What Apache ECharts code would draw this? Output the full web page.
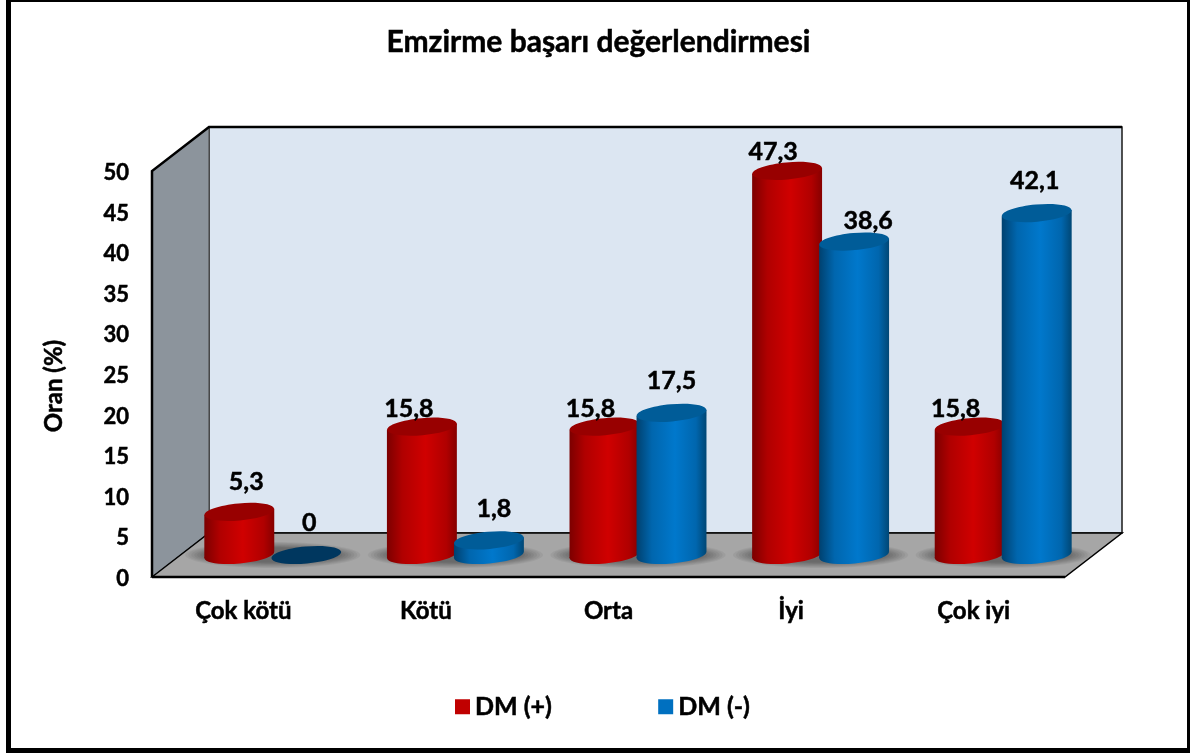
<!DOCTYPE html>
<html>
<head>
<meta charset="utf-8">
<title>Emzirme başarı değerlendirmesi</title>
<script src="https://cdn.jsdelivr.net/npm/echarts@6/dist/echarts.min.js"></script>
<style>
  html, body { margin: 0; padding: 0; background: #fff; }
  #chart { width: 1197px; height: 756px; }
</style>
</head>
<body>
<div id="chart"></div>
<script>
var categories = ['Çok kötü', 'Kötü', 'Orta', 'İyi', 'Çok iyi'];
var yTicks = [0, 5, 10, 15, 20, 25, 30, 35, 40, 45, 50];
var dmPlus = [5.3, 15.8, 15.8, 47.3, 15.8];
var dmMinus = [0, 1.8, 17.5, 38.6, 42.1];

var FONT = 'Lato, "Noto Sans", sans-serif';

// depth of the fake 3d box, the floor runs this far back from the axis plane
var DEPTH_X = 57;
var DEPTH_Y = 44;

// hand placed data labels, same as the original slide
var plusNudge = [[7, -30], [-13, -18], [-14, -18], [-14, -19], [-14, -18]];
var minusNudge = [[3, -32], [5, -31], [0, -32], [14, -21], [-2, -32]];

// lato bold is a bit lighter than the original, thicken it a little
function boldText(size) {
  return {
    color: '#000', fontFamily: FONT, fontWeight: 'bold', fontSize: size,
    textBorderColor: '#000', textBorderWidth: 0.5
  };
}

function sideGradient(edgeL, mid, bright, edgeR) {
  return new echarts.graphic.LinearGradient(0, 0, 1, 0, [
    { offset: 0, color: edgeL },
    { offset: 0.22, color: mid },
    { offset: 0.55, color: bright },
    { offset: 0.85, color: mid },
    { offset: 1, color: edgeR }
  ]);
}

// one cylinder, side is -1 for left bar of the group and 1 for the right one
function cylinder(side, nudge, sideFill, topFill, zeroFill) {
  return function (params, api) {
    var idx = api.value(0);
    var val = api.value(1);
    var band = api.size([1, 0])[0];
    var top = api.coord([idx, val]);
    var base = api.coord([idx, 0]);
    var rx = band * 0.1915;
    var ry = rx * 0.245;
    var cx = base[0] + DEPTH_X / 2 + 1 + side * band * 0.1835;
    var topY = top[1] - DEPTH_Y / 2;
    var baseY = base[1] - DEPTH_Y / 2;
    var tilt = 0.09;
    var lift = rx * Math.sin(tilt);
    var kids = [];
    if (val > 0) {
      kids.push({
        type: 'ellipse', x: cx, y: baseY, rotation: tilt,
        shape: { cx: 0, cy: 0, rx: rx, ry: ry },
        style: { fill: sideFill }
      });
      kids.push({
        type: 'polygon',
        shape: { points: [
          [cx - rx, topY + lift], [cx + rx, topY - lift],
          [cx + rx, baseY - lift], [cx - rx, baseY + lift]
        ] },
        style: { fill: sideFill }
      });
    }
    kids.push({
      type: 'ellipse', x: cx, y: topY, rotation: tilt,
      shape: { cx: 0, cy: 0, rx: rx, ry: ry },
      style: { fill: val > 0 ? topFill : zeroFill }
    });
    kids.push({
      type: 'text', z2: 50,
      x: cx + nudge[idx][0], y: topY + nudge[idx][1],
      style: {
        text: String(val).replace('.', ','),
        font: 'bold 25px ' + FONT,
        fill: '#000', stroke: '#000', lineWidth: 0.5,
        align: 'center', verticalAlign: 'middle'
      }
    });
    return { type: 'group', children: kids };
  };
}

function renderBox(params, api) {
  var g = params.coordSys;
  var l = g.x, r = g.x + g.width, t = g.y, b = g.y + g.height;
  var dx = DEPTH_X, dy = DEPTH_Y;
  return {
    type: 'group',
    children: [
      { type: 'rect', shape: { x: l + dx, y: t - dy, width: r - l, height: b - t },
        style: { fill: '#dce6f2', stroke: '#1a1a1a', lineWidth: 1.5 } },
      { type: 'polygon', shape: { points: [[l, t], [l + dx, t - dy], [l + dx, b - dy], [l, b]] },
        style: { fill: '#8c949c', stroke: '#444', lineWidth: 1 } },
      { type: 'polygon', shape: { points: [[l, b], [l + dx, b - dy], [r + dx, b - dy], [r, b]] },
        style: { fill: '#a6a6a6', stroke: '#000', lineWidth: 1.5 } },
      { type: 'polyline', shape: { points: [[l, b], [l, t], [l + dx, t - dy], [r + dx, t - dy]] },
        style: { fill: 'none', stroke: '#000', lineWidth: 2.5 } },
      { type: 'line', shape: { x1: l, y1: b, x2: r, y2: b },
        style: { stroke: '#000', lineWidth: 2.5 } }
    ]
  };
}

// soft shadow on the floor, stacked see-through ellipses fading outwards
function renderFloorShadow(params, api) {
  var base = api.coord([api.value(0), 0]);
  var band = api.size([1, 0])[0];
  var kids = [];
  for (var i = 0; i < 8; i++) {
    kids.push({
      type: 'ellipse',
      shape: {
        cx: base[0] + DEPTH_X / 2 + 1,
        cy: base[1] - DEPTH_Y / 2,
        rx: band * 0.48 - i * 3,
        ry: 13 - i * 0.8
      },
      style: { fill: 'rgba(0,0,0,0.05)' }
    });
  }
  return { type: 'group', children: kids };
}

function frameBar(x, y, w, h) {
  return { type: 'rect', silent: true, shape: { x: x, y: y, width: w, height: h }, style: { fill: '#000' } };
}

var chart = echarts.init(document.getElementById('chart'));
chart.setOption({
  animation: false,
  backgroundColor: '#fff',
  title: {
    text: 'Emzirme başarı değerlendirmesi',
    left: 'center',
    top: 22,
    textStyle: boldText(30)
  },
  // outer frame, the sides are not equally thick in the original
  graphic: [
    frameBar(6, 0, 5, 753),
    frameBar(6, 0, 1184, 2),
    frameBar(1187, 0, 3, 753),
    frameBar(6, 748, 1184, 5)
  ],
  legend: {
    data: [{ name: 'DM (+)', icon: 'rect' }, { name: 'DM (-)', icon: 'rect' }],
    left: 450,
    top: 689,
    itemWidth: 15,
    itemHeight: 15,
    itemGap: 106,
    textStyle: boldText(25)
  },
  grid: { left: 152, right: 132, top: 171, bottom: 179 },
  xAxis: {
    type: 'category',
    data: categories,
    axisLine: { show: false },
    axisTick: { show: false },
    splitLine: { show: false },
    axisLabel: Object.assign({ margin: 22 }, boldText(24))
  },
  yAxis: {
    type: 'value',
    min: yTicks[0],
    max: yTicks[yTicks.length - 1],
    interval: yTicks[1] - yTicks[0],
    name: 'Oran (%)',
    nameLocation: 'middle',
    nameRotate: 90,
    nameGap: 86,
    nameTextStyle: Object.assign({ padding: [0, 24, 0, 0] }, boldText(24)),
    axisLine: { show: false },
    axisTick: { show: false },
    splitLine: { show: false },
    axisLabel: Object.assign({ margin: 23, verticalAlign: 'top', lineHeight: 4 }, boldText(22))
  },
  series: [
    {
      name: 'box', type: 'custom', z: 1, silent: true,
      renderItem: renderBox,
      encode: { x: 0, y: 1 },
      data: [[0, 0]]
    },
    {
      name: 'shadow', type: 'custom', z: 2, silent: true,
      renderItem: renderFloorShadow,
      encode: { x: 0, y: 1 },
      data: categories.map(function (c, i) { return [i, 0]; })
    },
    {
      name: 'DM (+)', type: 'custom', z: 3,
      itemStyle: { color: '#c00000' },
      renderItem: cylinder(-1, plusNudge,
        sideGradient('#7c0000', '#b00000', '#d00000', '#860000'), '#980000', '#980000'),
      encode: { x: 0, y: 1 },
      data: dmPlus.map(function (v, i) { return [i, v]; })
    },
    {
      name: 'DM (-)', type: 'custom', z: 4,
      itemStyle: { color: '#0070c0' },
      renderItem: cylinder(1, minusNudge,
        sideGradient('#00416f', '#0066ae', '#0078cc', '#004775'), '#005c98', '#00375f'),
      encode: { x: 0, y: 1 },
      data: dmMinus.map(function (v, i) { return [i, v]; })
    }
  ]
});
</script>
</body>
</html>
